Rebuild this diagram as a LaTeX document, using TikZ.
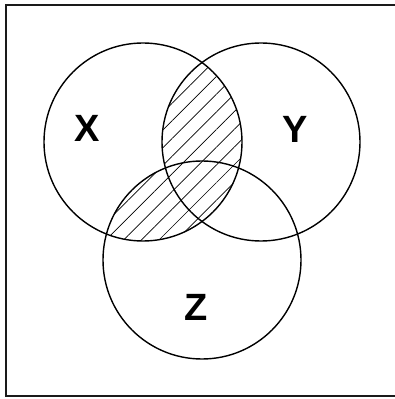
\documentclass[tikz,border=0pt]{standalone}
\usepackage{fontspec}
\setmainfont{Liberation Sans}
\usepackage{tikz}
\usepackage{xcolor}
\usetikzlibrary{patterns.meta}
\definecolor{ink}{HTML}{000000}
\definecolor{framegray}{HTML}{1A1A1A}
\tikzset{
  setring/.style={draw=ink,line width=1.4pt},
  hatch/.style={pattern={Lines[angle=45,distance=12.5pt,line width=0.7pt]},
                pattern color=ink},
  framebox/.style={draw=framegray,line width=1.6pt},
  setlabel/.style={font=\fontsize{38}{38}\selectfont\bfseries,text=ink,
                   inner sep=0pt}
}
\begin{document}
\begin{tikzpicture}[x=1pt,y=1pt]
    \path[use as bounding box] (0,0) rectangle (395,399);

    % frame, cut off on the right
    \draw[framebox] (396,394) -- (6,394) -- (6,3) -- (396,3);

    \coordinate (cx) at (143,257);
    \coordinate (cy) at (261,257);
    \coordinate (cz) at (202,139);

    % hatched part: X with (Y or Z)
    \begin{scope}
      \clip (cx) circle (99pt);
      \fill[hatch] (cy) circle (99pt) (cz) circle (99pt);
    \end{scope}

    \draw[setring] (cx) circle (99pt);
    \draw[setring] (cy) circle (99pt);
    \draw[setring] (cz) circle (99pt);

    \node[setlabel] (lx) at (87,271) {X};
    \node[setlabel] (ly) at (295,270) {Y};
    \node[setlabel] (lz) at (196,92) {Z};
  \end{tikzpicture}
\end{document}
